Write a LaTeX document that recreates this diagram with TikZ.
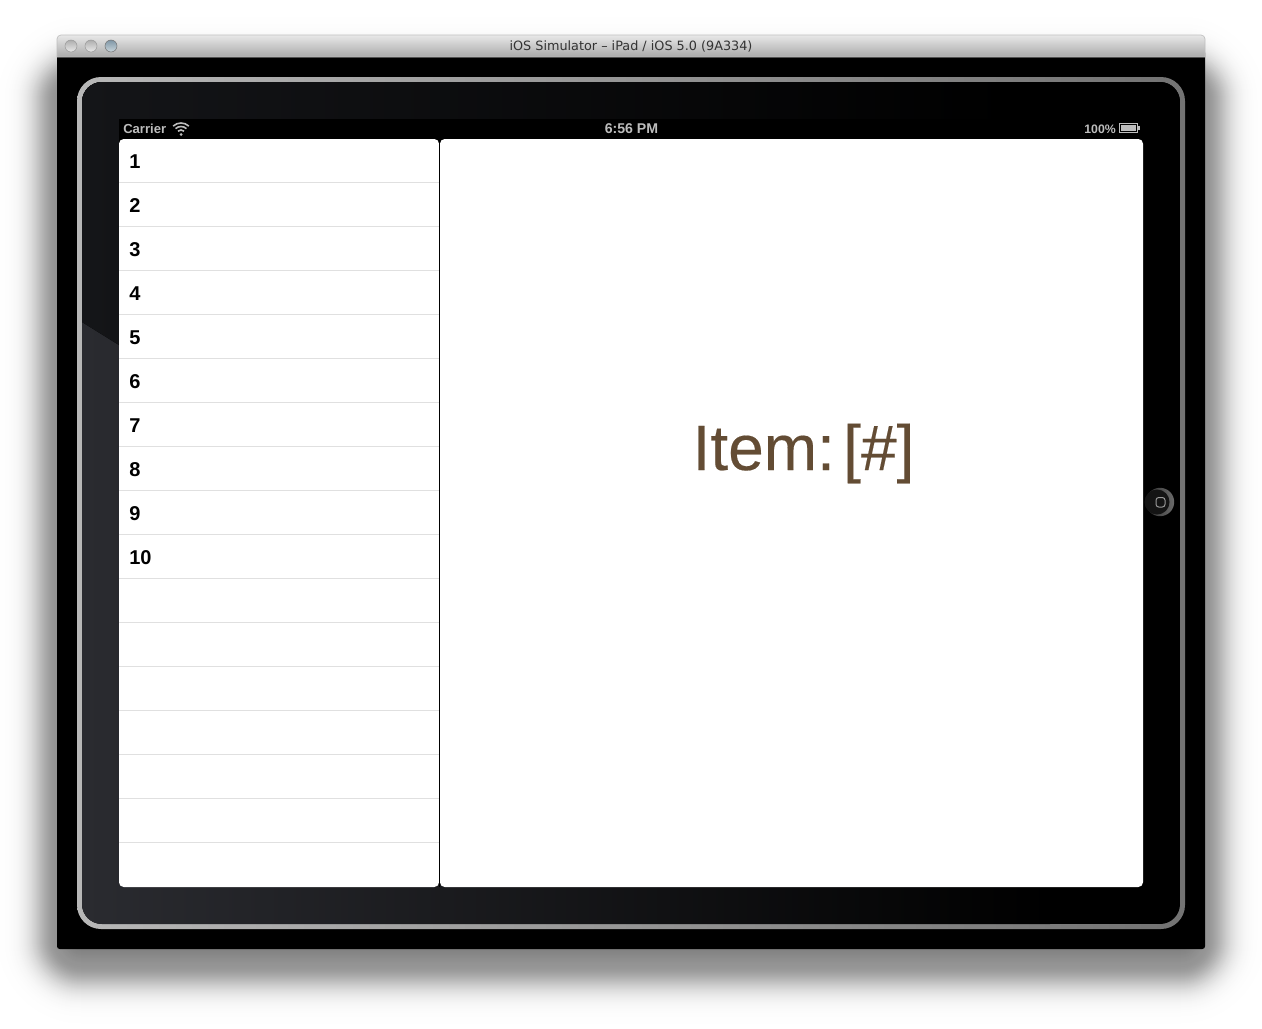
\documentclass[tikz,border=0pt]{standalone}
\usepackage{fontspec}
\setmainfont{Liberation Sans}
\newfontfamily\titlefont{DejaVu Sans}
\newfontfamily\itemfont[FakeBold=0.25]{Liberation Sans}
\usetikzlibrary{calc}
\definecolor{itembrown}{HTML}{634C34}
\definecolor{sepgray}{HTML}{E0E0E0}
\definecolor{barlight}{HTML}{E8E8E8}
\definecolor{bardark}{HTML}{A9A9A9}
\definecolor{statusgray}{HTML}{BDBDBD}
\definecolor{bezelleft}{HTML}{2A2B30}
\definecolor{bezelupper}{HTML}{141518}
\definecolor{btnbluetop}{HTML}{7F96A6}
\definecolor{btnbluebot}{HTML}{CAD6DC}
\tikzset{
  rowlabel/.style={anchor=base west,inner sep=0pt,font=\fontsize{15}{18}\bfseries\selectfont,text=black},
  statuslabel/.style={inner sep=0pt,font=\fontsize{9.2}{11}\bfseries\selectfont,text=statusgray},
  sepline/.style={draw=sepgray,line width=0.75pt},
  wifiarc/.style={draw=statusgray,line width=1.2pt},
  lightbtn/.style={circle,minimum size=9pt,inner sep=0pt,draw=black!40,line width=0.4pt,top color=black!32,bottom color=black!8}
}
\begin{document}
\begin{tikzpicture}[x=0.75pt,y=-0.75pt]
\useasboundingbox (0,0) rectangle (1262,1028);
\fill[white] (0,0) rectangle (1262,1028);
% soft shadow: opaque layers, lightest first
\foreach \d in {70,69,...,-15}{
  \pgfmathsetmacro{\pct}{\d>0 ? 42*exp(-(\d/25)^2) : 42-0.5*\d}
  \pgfmathsetmacro{\rad}{max(\d+25,3)*0.75}
  \fill[black!\pct!white,rounded corners=\rad pt]
    (57-\d,76-\d) rectangle (1205+\d,964+\d);
}
% window
\fill[black,rounded corners=2pt] (57,50) rectangle (1205,949);
\path[top color=barlight,bottom color=bardark,draw=black!25,line width=0.5pt]
  (57,57) -- (57,39) to[out=90,in=180] (61,35) -- (1201,35) to[out=0,in=90] (1205,39) -- (1205,57) -- cycle;
\node[lightbtn] (btnA) at (71,46) {};
\node[lightbtn] (btnB) at (91,46) {};
\node[lightbtn,top color=btnbluetop,bottom color=btnbluebot,draw=black!55] (btnC) at (111,46) {};
\node[inner sep=0pt,font=\titlefont\fontsize{9.6}{11}\selectfont,text=black!80] (wintitle) at (631,46) {iOS Simulator – iPad / iOS 5.0 (9A334)};
% metal frame
\shade[left color=black!28,right color=black!55,rounded corners=18pt] (77,77) rectangle (1185,929);
% bezel
\begin{scope}
  \clip[rounded corners=15pt] (82,82) rectangle (1180,924);
  \fill[black] (82,82) rectangle (1180,924);
  \shade[left color=bezelleft,right color=black] (82,82) rectangle (1050,924);
  \begin{scope}
    \clip (82,82) -- (82,322) -- (119,345) -- (1180,345) -- (1180,82) -- cycle;
    \fill[black] (82,82) rectangle (1180,345);
    \shade[left color=bezelupper,right color=black] (82,82) rectangle (1010,345);
  \end{scope}
\end{scope}
% status bar and screen
\fill[black] (119,119) rectangle (1143,145);
\fill[white,rounded corners=3.5pt] (119,139) rectangle (439,887);
\fill[white,rounded corners=3.5pt] (440,139) rectangle (1143,887);
\fill[black] (439,139) rectangle (440,887);
% status bar content
\node[statuslabel,anchor=base west,font=\fontsize{9.8}{11}\bfseries\selectfont] (carrier) at (123,133) {Carrier};
\node[statuslabel,anchor=base,font=\fontsize{10.6}{12}\bfseries\selectfont] (clock) at (631.5,133) {6:56 PM};
\node[statuslabel,anchor=base east] (percent) at (1116,133) {100\%};
\coordinate (wifi) at (181,134.5);
\fill[statusgray] (wifi) circle (1.5);
\foreach \r in {4.5,8,11.5}{
  \draw[wifiarc] ($(wifi)+(-133:\r)$) arc[start angle=-133,end angle=-47,radius=\r];
}
\draw[statusgray,line width=0.75pt] (1119.5,123.5) rectangle (1137.5,132.5);
\fill[statusgray] (1121,125) rectangle (1136,131);
\fill[statusgray] (1138,126) rectangle (1140,130);
% table rows
\foreach \i in {0,...,15}{
  \draw[sepline] (119,{182.5+44*\i}) -- (439,{182.5+44*\i});
}
\foreach \n in {1,...,10}{
  \node[rowlabel] (row\n) at (129,{168+44*(\n-1)}) {\n};
}
% detail label
\node[anchor=base,inner sep=0pt,font=\itemfont\fontsize{48}{56}\selectfont,text=itembrown] (item) at (803.5,470) {Item:\hspace{-11.5pt} [\#]};
% home button
\coordinate (home) at (1160,502);
\shade[left color=black!82,right color=black!58] (home) circle (14.2);
\fill[black!92] (1157,502) circle (12.5);
\draw[black!40,line width=0.75pt,rounded corners=2pt] (1156,497.5) rectangle (1165,507);
\end{tikzpicture}
\end{document}
